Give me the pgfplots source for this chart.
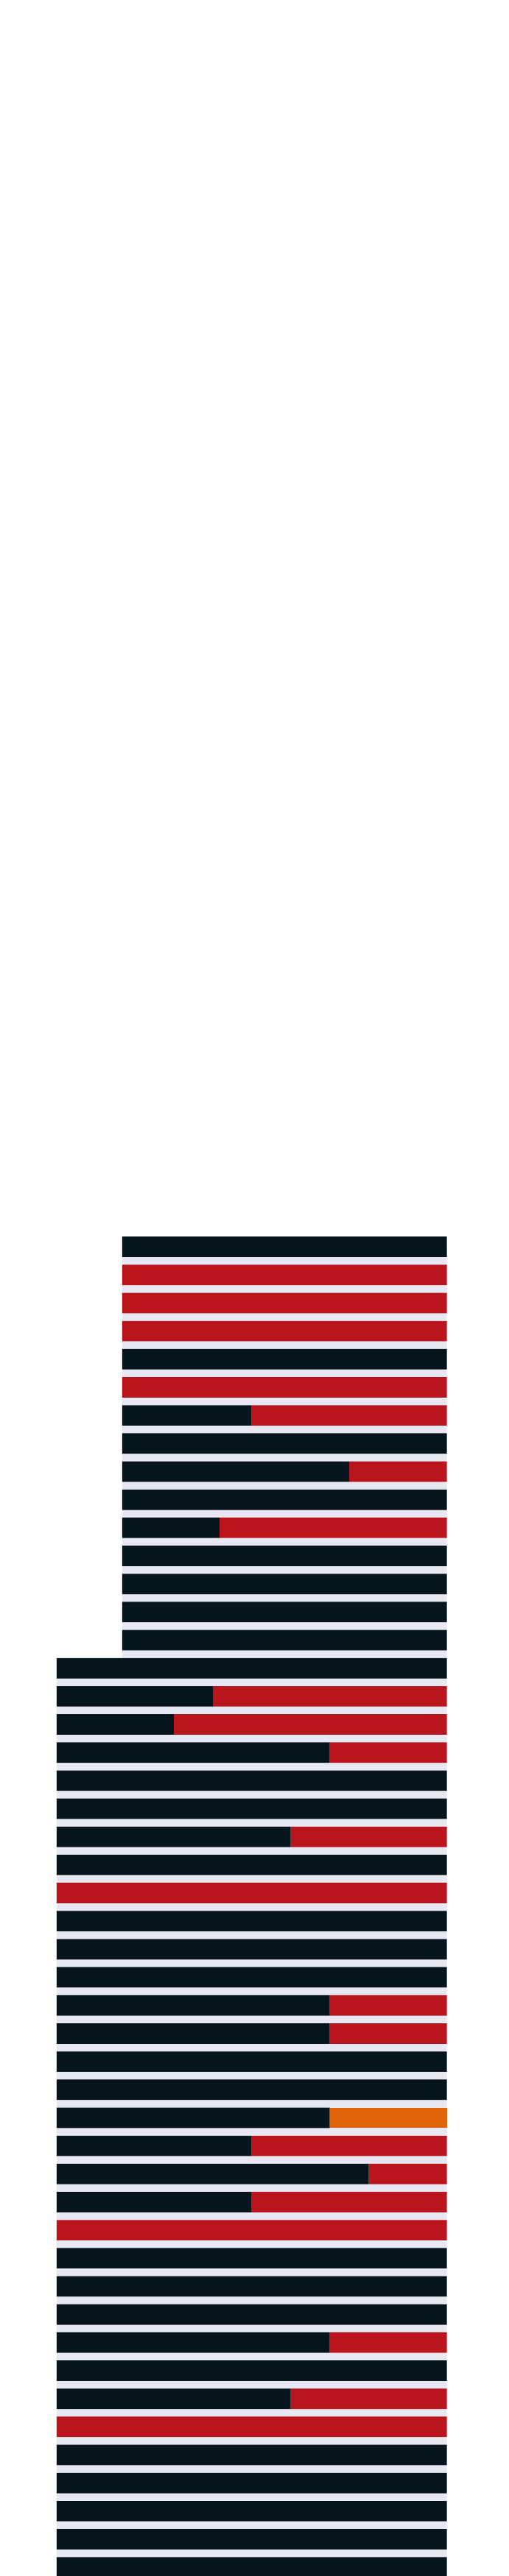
\documentclass[border=0pt]{standalone}
\usepackage{pgfplots}
\usepackage{pgfplotstable}
\pgfplotsset{compat=1.18}
\definecolor{darkbar}{HTML}{06151C}
\definecolor{redbar}{HTML}{BA141D}
\definecolor{orangebar}{HTML}{E0640A}
\definecolor{lav}{HTML}{E8E8F2}
% row  offset dark red orange
\pgfplotstableread{
row off dark red orange
1  16.8 83.2 0 0
2  16.8 0 83.2 0
3  16.8 0 83.2 0
4  16.8 0 83.2 0
5  16.8 83.2 0 0
6  16.8 0 83.2 0
7  16.8 33.2 50 0
8  16.8 83.2 0 0
9  16.8 58.2 25 0
10 16.8 83.2 0 0
11 16.8 24.9 58.3 0
12 16.8 83.2 0 0
13 16.8 83.2 0 0
14 16.8 83.2 0 0
15 16.8 83.2 0 0
16 0 100 0 0
17 0 40 60 0
18 0 30 70 0
19 0 70 30 0
20 0 100 0 0
21 0 100 0 0
22 0 60 40 0
23 0 100 0 0
24 0 0 100 0
25 0 100 0 0
26 0 100 0 0
27 0 100 0 0
28 0 70 30 0
29 0 70 30 0
30 0 100 0 0
31 0 100 0 0
32 0 70 0 30
33 0 50 50 0
34 0 80 20 0
35 0 50 50 0
36 0 0 100 0
37 0 100 0 0
38 0 100 0 0
39 0 100 0 0
40 0 70 30 0
41 0 100 0 0
42 0 60 40 0
43 0 0 100 0
44 0 100 0 0
45 0 100 0 0
46 0 100 0 0
47 0 100 0 0
48 0 100 0 0
}\rows
\pgfplotsset{common/.style={
  width=138bp, height=700bp, scale only axis,
  xmin=-14.54, xmax=115.77, ymin=-43.38, ymax=48.31,
  y dir=reverse, axis line style={draw=none}, ticks=none,
  clip=true}}
\begin{document}
\begin{tikzpicture}
\begin{axis}[common, axis background/.style={fill=white}]
\addplot[fill=lav, draw=none] coordinates {
 (16.8,1) (100,1) (100,48.5) (0,48.5) (0,15.64) (16.8,15.64)} \closedcycle;
\end{axis}
\begin{axis}[common, xbar stacked, bar width=0.7257]
\addplot[draw=none, fill=none] table[x=off, y=row] {\rows};
\addplot[draw=none, fill=darkbar] table[x=dark, y=row] {\rows};
\addplot[draw=none, fill=redbar] table[x=red, y=row] {\rows};
\addplot[draw=none, fill=orangebar] table[x=orange, y=row] {\rows};
\end{axis}
\end{tikzpicture}
\end{document}
